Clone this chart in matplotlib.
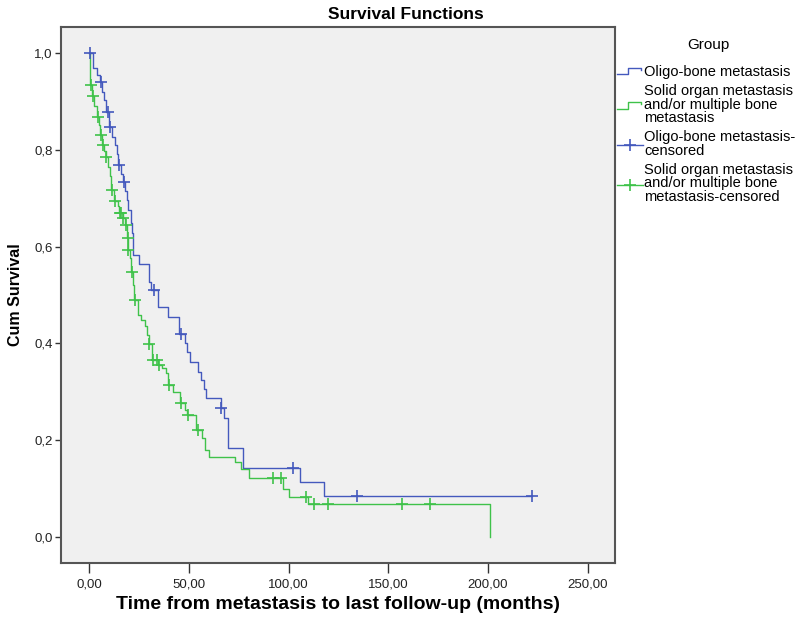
import numpy as np
import matplotlib.pyplot as plt
from matplotlib.lines import Line2D
from matplotlib.legend_handler import HandlerBase
from matplotlib.ticker import FuncFormatter

# Kaplan-Meier steps: (time in months, survival after the step)
oligo_t = [0, 2, 4, 5.4, 6.5, 7.5, 8.5, 9.7, 10.0, 11.5, 13.0, 13.7, 14.3, 16.0, 16.8, 18.0,
           18.7, 19.5, 20.7, 21.5, 21.7, 25.0, 30.0, 31.0, 34.6, 39.6, 45.0, 48.0, 49.2, 50.5,
           54.7, 55.9, 57.7, 58.5, 65.9, 67.4, 69.7, 77.0, 105.6, 117.9, 221.9]
oligo_s = [1.0, 0.968, 0.954, 0.940, 0.920, 0.902, 0.878, 0.862, 0.847, 0.827, 0.810, 0.792,
           0.768, 0.750, 0.734, 0.715, 0.696, 0.675, 0.648, 0.627, 0.583, 0.565, 0.527, 0.510,
           0.475, 0.455, 0.420, 0.400, 0.383, 0.362, 0.342, 0.325, 0.307, 0.287, 0.266, 0.246,
           0.184, 0.143, 0.115, 0.085, 0.085]
oligo_cens = [0.3, 5.7, 9.2, 10.3, 14.8, 17.2, 32.5, 45.8, 66.1, 102.0, 134.5, 221.9]

solid_t = [0, 0.5, 0.6, 1.5, 2.5, 4.0, 5.0, 5.5, 6.5, 7.5, 8.2, 9.5, 10.4, 10.8, 12.5, 14.5,
           15.0, 16.7, 18.0, 19.0, 19.5, 20.5, 21.0, 22.0, 22.5, 24.6, 26.0, 27.9, 29.0, 30.0,
           31.3, 34.5, 36.3, 38.5, 39.3, 41.8, 45.5, 48.0, 49.0, 53.5, 56.4, 58.0, 60.0, 73.0,
           76.0, 80.0, 97.0, 100.0, 109.5, 201.0]
solid_s = [1.0, 0.955, 0.933, 0.911, 0.890, 0.868, 0.850, 0.830, 0.810, 0.797, 0.785, 0.765,
           0.745, 0.717, 0.693, 0.683, 0.669, 0.658, 0.644, 0.617, 0.593, 0.576, 0.548, 0.520,
           0.490, 0.459, 0.448, 0.435, 0.417, 0.399, 0.366, 0.356, 0.349, 0.338, 0.314, 0.300,
           0.277, 0.263, 0.252, 0.221, 0.204, 0.180, 0.165, 0.155, 0.140, 0.123, 0.100, 0.083,
           0.069, 0.0]
solid_cens = [0.7, 1.7, 4.5, 5.7, 6.7, 8.4, 11.2, 12.9, 15.4, 15.9, 17.0, 18.4, 19.3, 19.6,
              21.3, 22.9, 30.1, 32.1, 33.8, 35.1, 39.8, 46.0, 49.7, 54.4, 92.0, 96.0, 108.7,
              112.7, 119.9, 157.0, 170.9]

BLUE = '#4459bd'
GREEN = '#3fc24a'
LW = 1.0


def level_at(times, surv, x):
    # survival value of a post-step curve at time x
    idx = np.searchsorted(times, x, side='right') - 1
    return np.asarray(surv)[idx]


class StepHandler(HandlerBase):
    def create_artists(self, legend, orig_handle, xd, yd, w, h, fontsize, trans):
        xs = np.array([0, 0.45, 0.45, 0.95, 0.95]) * w - xd
        ys = np.array([0.15, 0.15, 0.75, 0.75, 0.6]) * h - yd
        ln = Line2D(xs, ys, color=orig_handle.get_color(), lw=LW, transform=trans)
        return [ln]


class CensHandler(HandlerBase):
    def create_artists(self, legend, orig_handle, xd, yd, w, h, fontsize, trans):
        ln = Line2D([-xd, w - xd], [0.4 * h - yd] * 2, color=orig_handle.get_color(),
                    lw=LW, transform=trans)
        mk = Line2D([0.5 * w - xd], [0.4 * h - yd], marker='+', ms=9, mew=1.2,
                    color=orig_handle.get_color(), transform=trans)
        return [ln, mk]


plt.rcParams['font.family'] = ['Liberation Sans', 'DejaVu Sans']

fig = plt.figure(figsize=(7.96, 6.26), dpi=100)
ax = fig.add_axes([0.0763, 0.1002, 0.6963, 0.8571])
ax.set_facecolor('#f0f0f0')

ax.step(oligo_t, oligo_s, where='post', color=BLUE, lw=LW)
ax.step(solid_t, solid_s, where='post', color=GREEN, lw=LW)
ax.plot(oligo_cens, level_at(oligo_t, oligo_s, oligo_cens), ls='none', marker='+',
        ms=9, mew=1.2, color=BLUE)
ax.plot(solid_cens, level_at(solid_t, solid_s, solid_cens), ls='none', marker='+',
        ms=9, mew=1.2, color=GREEN)

ax.set_xlim(-14.3, 263.7)
ax.set_ylim(-0.0537, 1.0537)
ax.set_xticks(np.arange(0, 251, 50))
ax.set_yticks(np.arange(0, 1.01, 0.2))
ax.xaxis.set_major_formatter(FuncFormatter(lambda v, p: f'{v:.2f}'.replace('.', ',')))
ax.yaxis.set_major_formatter(FuncFormatter(lambda v, p: f'{v:.1f}'.replace('.', ',')))
ax.tick_params(width=1, color='#333333', labelsize=9.5, labelcolor='#222222')
ax.tick_params(axis='x', length=7, pad=4)
ax.tick_params(axis='y', length=4, pad=2)
for sp in ax.spines.values():
    sp.set_color('#555555')
    sp.set_linewidth(1.5)

ax.set_xlabel('Time from metastasis to last follow-up (months)', fontsize=14,
              fontweight='bold')
ax.set_ylabel('Cum Survival', fontsize=11.5, fontweight='bold')
ax.yaxis.set_label_coords(-0.068, 0.5)
fig.text(0.51, 0.977, 'Survival Functions', ha='center', va='center', fontsize=12.5,
         fontweight='bold')

h1 = Line2D([], [], color=BLUE)
h2 = Line2D([], [], color=GREEN)
h3 = Line2D([], [], color=BLUE)
h4 = Line2D([], [], color=GREEN)
labels = ['Oligo-bone metastasis',
          'Solid organ metastasis\nand/or multiple bone\nmetastasis',
          'Oligo-bone metastasis-\ncensored',
          'Solid organ metastasis\nand/or multiple bone\nmetastasis-censored']
fig.text(708 / 796, 1 - 45 / 626, 'Group', ha='center', va='center', fontsize=11)
leg = fig.legend([h1, h2, h3, h4], labels, loc='upper left',
                 bbox_to_anchor=(617 / 796, 1 - 65 / 626), frameon=False, fontsize=10.5,
                 handlelength=1.75, handletextpad=0.1, borderpad=0,
                 labelspacing=0.35, borderaxespad=0,
                 handler_map={h1: StepHandler(), h2: StepHandler(),
                              h3: CensHandler(), h4: CensHandler()})
for t in leg.get_texts():
    t.set_linespacing(0.95)

fig.savefig('out.png', dpi=100)
